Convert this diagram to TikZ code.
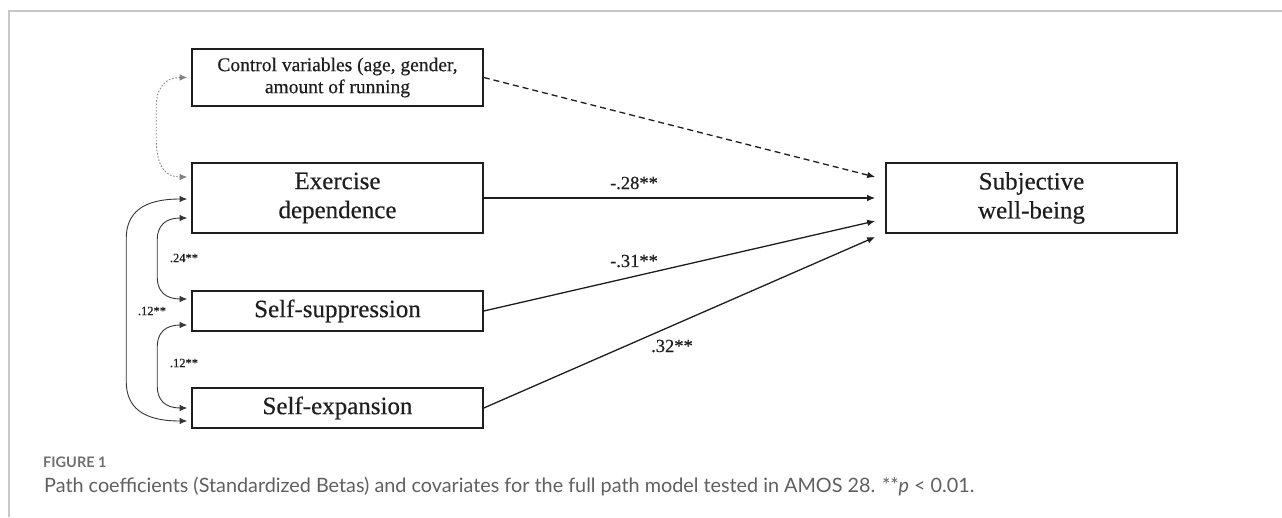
\documentclass[tikz,border=0pt]{standalone}
\usepackage{fontspec}
\setsansfont{Lato}
\newfontfamily\diagfont[FakeBold=0.4]{Liberation Serif}
\usetikzlibrary{arrows.meta,calc}
\definecolor{framegrey}{HTML}{C8C8C8}
\definecolor{capgrey}{HTML}{606060}
\definecolor{figgrey}{HTML}{707070}
\definecolor{ink}{HTML}{1E1E1E}

\begin{document}
\begin{tikzpicture}[x=1pt,y=-1pt,
  box/.style={draw=ink, line width=1.6pt, minimum width=291pt, inner sep=0pt,
    align=center, text=ink, font=\diagfont\fontsize{25}{29}\selectfont},
  smallbox/.style={box, font=\diagfont\fontsize{19.5}{22}\selectfont},
  path/.style={draw=ink, line width=1.3pt, -{Latex[length=8pt,width=6.5pt]}},
  cov/.style={draw=ink!90, line width=0.9pt, {Latex[length=7.5pt,width=6.5pt]}-{Latex[length=7.5pt,width=6.5pt]}},
  coef/.style={inner sep=0pt, text=ink, font=\diagfont\fontsize{18.5}{20}\selectfont},
  covlab/.style={inner sep=0pt, text=ink, font=\diagfont\fontsize{12.5}{14}\selectfont}
]
% page and frame
\fill[white] (0,0) rectangle (1282,517);
\useasboundingbox (0,0) rectangle (1282,517);
\draw[framegrey, line width=1.5pt] (1282,11) -- (9,11) -- (9,517);

% variables
\node[smallbox, minimum height=57pt] (ctrl) at (337.5,77.5) {Control variables (age, gender,\\amount of running};
\node[box, minimum height=70pt] (ex) at (337.5,198) {Exercise\\dependence};
\node[box, minimum height=40pt] (sup) at (337.5,311) {Self-suppression};
\node[box, minimum height=40pt] (exp) at (337.5,408) {Self-expansion};
\node[box, minimum height=70pt] (sub) at (1031.5,198) {Subjective\\well-being};

% direct paths
\draw[path, dashed, dash pattern=on 6pt off 4pt] (ctrl.east) -- ($(sub.west)+(-10,-21)$);
\draw[path] (ex.east) -- ($(sub.west)+(-10,0)$);
\draw[path] (sup.east) -- ($(sub.west)+(-10,23)$);
\draw[path] (exp.east) -- ($(sub.west)+(-10,39)$);

\node[coef] (b1) at (634,183) {-.28**};
\node[coef] (b2) at (634,261) {-.31**};
\node[coef] (b3) at (672,346) {.32**};

% covariances
\coordinate (c1) at ($(ctrl.west)+(-4,0)$);
\coordinate (c2) at ($(ex.west)+(-4,-21)$);
\draw[cov, draw=gray, line width=0.9pt, dash pattern=on 1.5pt off 1.8pt]
  (c1) .. controls ($(c1)+(-22,0)$) and ($(c1)+(-31,10)$) .. ($(c1)+(-31,30)$)
  -- ($(c2)+(-31,-40)$)
  .. controls ($(c2)+(-31,-10)$) and ($(c2)+(-22,0)$) .. (c2);

\coordinate (o1) at ($(ex.west)+(-4,1)$);
\coordinate (o2) at ($(exp.west)+(-4,13)$);
\draw[cov]
  (o1) .. controls ($(o1)+(-45,0)$) and ($(o1)+(-61,14)$) .. ($(o1)+(-61,40)$)
  -- ($(o2)+(-61,-40)$)
  .. controls ($(o2)+(-61,-14)$) and ($(o2)+(-45,0)$) .. (o2);

\coordinate (i1) at ($(ex.west)+(-4,20)$);
\coordinate (i2) at ($(sup.west)+(-4,-12)$);
\draw[cov]
  (i1) .. controls ($(i1)+(-22,0)$) and ($(i1)+(-30,8)$) .. ($(i1)+(-30,22)$)
  -- ($(i2)+(-30,-22)$)
  .. controls ($(i2)+(-30,-8)$) and ($(i2)+(-22,0)$) .. (i2);

\coordinate (j1) at ($(sup.west)+(-4,14)$);
\coordinate (j2) at ($(exp.west)+(-4,0)$);
\draw[cov]
  (j1) .. controls ($(j1)+(-22,0)$) and ($(j1)+(-30,8)$) .. ($(j1)+(-30,22)$)
  -- ($(j2)+(-30,-22)$)
  .. controls ($(j2)+(-30,-8)$) and ($(j2)+(-22,0)$) .. (j2);

\node[covlab] (r1) at (184,258) {.24**};
\node[covlab] (r2) at (152,311) {.12**};
\node[covlab] (r3) at (184,363) {.12**};

% caption
\node[anchor=base west, inner sep=0pt, text=figgrey,
  font=\sffamily\bfseries\fontsize{14.5}{16}\selectfont] (fig) at (43,467) {FIGURE 1};
\node[anchor=base west, inner sep=0pt, text=capgrey,
  font=\sffamily\fontsize{19.8}{22}\selectfont] (cap) at (44,492)
  {Path coefficients (Standardized Betas) and covariates for the full path model tested in AMOS 28. **\textit{p} < 0.01.};
\end{tikzpicture}
\end{document}
